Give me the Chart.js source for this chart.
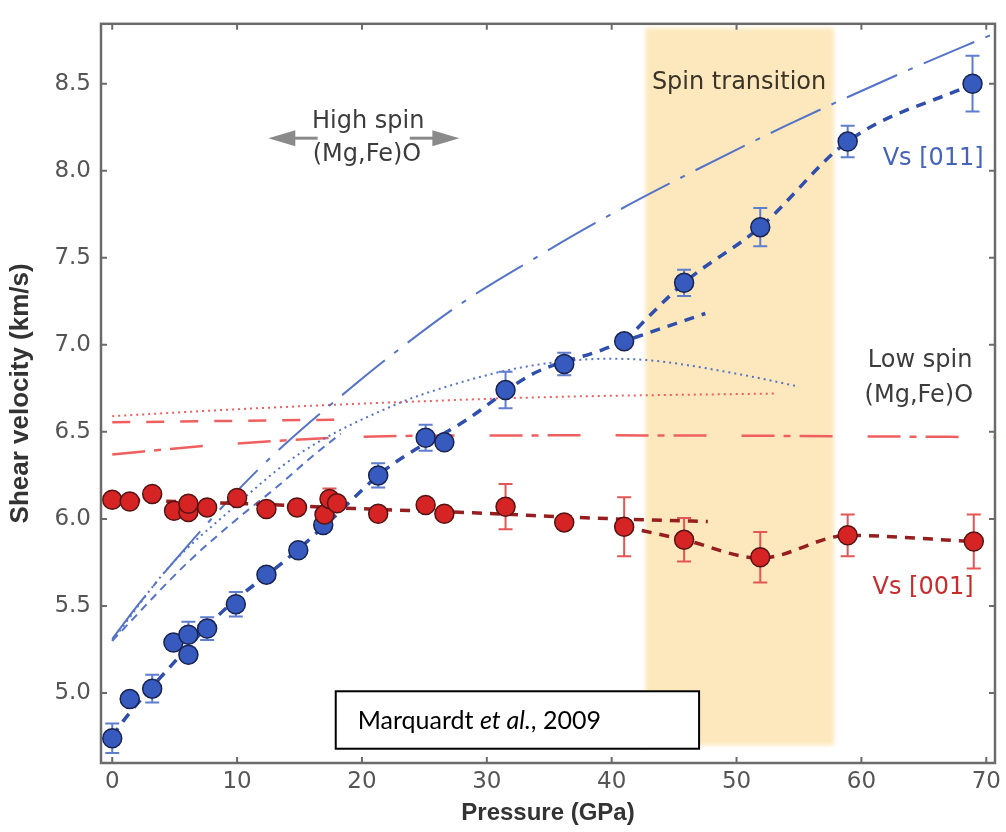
<!DOCTYPE html>
<html>
<head>
<meta charset="utf-8">
<script src="https://cdn.jsdelivr.net/npm/chart.js@4.4.1/dist/chart.umd.min.js"></script>
<style>
html, body { margin: 0; padding: 0; background: #fff; }
</style>
</head>
<body>
<canvas id="myChart" width="1006" height="832"></canvas>
<script>
// measured Vs [011] (blue)
const p011 = [0, 1.4, 3.2, 4.9, 6.1, 6.1, 7.6, 9.9, 12.35, 14.9, 16.9, 21.3, 25.1, 26.6, 31.5, 36.2, 41.0, 45.8, 51.9, 58.9, 68.9];
const vs011 = [4.74, 4.965, 5.025, 5.29, 5.335, 5.22, 5.37, 5.51, 5.68, 5.82, 5.965, 6.25, 6.466, 6.44, 6.74, 6.89, 7.02, 7.356, 7.676, 8.168, 8.5];
const err011 = [0.085, 0, 0.08, 0, 0.075, 0, 0.065, 0.07, 0, 0, 0, 0.07, 0.075, 0, 0.105, 0.065, 0, 0.075, 0.11, 0.09, 0.16];

// measured Vs [001] (red)
const p001 = [0, 1.4, 3.2, 4.95, 6.1, 6.1, 7.6, 10.0, 12.35, 14.8, 17.0, 17.4, 18.0, 21.3, 25.1, 26.6, 31.5, 36.2, 41.0, 45.8, 51.9, 58.9, 69.0];
const vs001 = [6.11, 6.10, 6.143, 6.047, 6.04, 6.087, 6.066, 6.12, 6.057, 6.066, 6.025, 6.115, 6.09, 6.03, 6.08, 6.03, 6.07, 5.98, 5.955, 5.88, 5.78, 5.906, 5.87];
const err001 = [0, 0, 0, 0, 0, 0, 0, 0, 0, 0, 0, 0.06, 0, 0, 0, 0, 0.13, 0, 0.17, 0.125, 0.145, 0.12, 0.155];

// fitted curves through the data
const fit011LowP = [0, 1, 4.5, 9, 14, 17, 22, 28.4, 33.6, 39.2, 41, 43, 47.5];
const fit011LowV = [4.75, 4.85, 5.14, 5.48, 5.77, 5.96, 6.29, 6.57, 6.83, 6.97, 7.02, 7.07, 7.18];
const fit011HighP = [41, 45.8, 51.9, 58.9, 69];
const fit011HighV = [7.02, 7.356, 7.676, 8.168, 8.5];
const fit001LowP = [0, 5, 11.5, 19.4, 28.9, 38.4, 47.7];
const fit001LowV = [6.11, 6.10, 6.085, 6.06, 6.035, 6.005, 5.985];
const fit001HighP = [41, 45.8, 51.9, 58.9, 69];
const fit001HighV = [5.955, 5.88, 5.775, 5.905, 5.87];

// thin reference curves
const refBlueAP = [0, 2, 5, 10.4, 13.7, 19.4, 22.8, 28, 33.9, 38.7, 45, 54, 63.5, 70.7];
const refBlueAV = [5.31, 5.5, 5.76, 6.19, 6.42, 6.77, 6.965, 7.24, 7.50, 7.70, 7.94, 8.26, 8.57, 8.79];
const refBlueBP = [0, 4.5, 9.3, 14.9, 22.8, 26.8, 31.4, 35.5, 39.7, 43.2, 50.3, 55];
const refBlueBV = [5.30, 5.72, 6.04, 6.37, 6.66, 6.76, 6.85, 6.90, 6.92, 6.91, 6.83, 6.76];
const refBlueCP = [0, 5.9, 10, 13.3, 15.7, 18.3];
const refBlueCV = [5.30, 5.74, 6.0, 6.19, 6.34, 6.49];
const refRedAP = [0, 10, 21, 35, 53];
const refRedAV = [6.59, 6.63, 6.665, 6.70, 6.72];
const refRedBP = [0, 18];
const refRedBV = [6.555, 6.57];
const refRedCP = [0, 7.5, 17.5, 25, 40, 70.7];
const refRedCV = [6.37, 6.42, 6.465, 6.478, 6.48, 6.47];

const spinBand = [42.7, 57.8];
const xTickVals = [0, 10, 20, 30, 40, 50, 60, 70];
const yTickVals = [5.0, 5.5, 6.0, 6.5, 7.0, 7.5, 8.0, 8.5];

function pts(xs, ys) {
    return xs.map(function(x, i) { return { x: x, y: ys[i] }; });
}

const BLUE = 'rgb(55,90,190)';
const RED = 'rgb(214,36,36)';

function curve(xs, ys, color, width, dash, order) {
    return {
        type: 'line',
        data: pts(xs, ys),
        borderColor: color,
        borderWidth: width,
        borderDash: dash,
        pointRadius: 0,
        fill: false,
        cubicInterpolationMode: 'monotone',
        order: order
    };
}

// shaded spin transition band and error bars, drawn under the marks
const bandPlugin = {
    id: 'band',
    beforeDatasetsDraw(chart) {
        const ctx = chart.ctx, x = chart.scales.x, y = chart.scales.y;
        ctx.save();
        ctx.filter = 'blur(2px)';
        ctx.fillStyle = 'rgb(252,232,188)';
        const x0 = x.getPixelForValue(spinBand[0]), x1 = x.getPixelForValue(spinBand[1]);
        const y0 = y.getPixelForValue(8.82), y1 = y.getPixelForValue(4.70);
        ctx.fillRect(x0, y0, x1 - x0, y1 - y0);
        ctx.restore();

        function bars(xs, ys, es, color) {
            ctx.save();
            ctx.strokeStyle = color;
            ctx.lineWidth = 2;
            for (let i = 0; i < xs.length; i++) {
                if (!es[i]) continue;
                const px = x.getPixelForValue(xs[i]);
                const top = y.getPixelForValue(ys[i] + es[i]);
                const bot = y.getPixelForValue(ys[i] - es[i]);
                ctx.beginPath();
                ctx.moveTo(px, top); ctx.lineTo(px, bot);
                ctx.moveTo(px - 7, top); ctx.lineTo(px + 7, top);
                ctx.moveTo(px - 7, bot); ctx.lineTo(px + 7, bot);
                ctx.stroke();
            }
            ctx.restore();
        }
        bars(p011, vs011, err011, 'rgb(95,125,205)');
        bars(p001, vs001, err001, 'rgb(228,85,85)');
    }
};

// box around the plot with inward ticks on all four sides
const framePlugin = {
    id: 'frame',
    afterDatasetsDraw(chart) {
        const ctx = chart.ctx, a = chart.chartArea, x = chart.scales.x, y = chart.scales.y;
        ctx.save();
        ctx.strokeStyle = '#6b6b6b';
        ctx.lineWidth = 2.5;
        ctx.strokeRect(a.left, a.top, a.right - a.left, a.bottom - a.top);
        ctx.lineWidth = 2;
        ctx.beginPath();
        xTickVals.forEach(function(v) {
            const px = x.getPixelForValue(v);
            ctx.moveTo(px, a.bottom); ctx.lineTo(px, a.bottom - 6);
            ctx.moveTo(px, a.top); ctx.lineTo(px, a.top + 6);
        });
        yTickVals.forEach(function(v) {
            const py = y.getPixelForValue(v);
            ctx.moveTo(a.left, py); ctx.lineTo(a.left + 6, py);
            ctx.moveTo(a.right, py); ctx.lineTo(a.right - 6, py);
        });
        ctx.stroke();
        ctx.restore();
    }
};

// text labels, arrows and the citation box
const notes = [
    { text: 'Spin transition', x: 50.2, y: 8.505, color: '#3b3428' },
    { text: 'High spin', x: 20.5, y: 8.28, color: '#3c3c3c' },
    { text: '(Mg,Fe)O', x: 20.4, y: 8.094, color: '#3c3c3c' },
    { text: 'Vs [011]', x: 65.75, y: 8.071, color: 'rgb(70,100,185)' },
    { text: 'Low spin', x: 64.7, y: 6.91, color: '#3c3c3c' },
    { text: '(Mg,Fe)O', x: 64.6, y: 6.71, color: '#3c3c3c' },
    { text: 'Vs [001]', x: 64.94, y: 5.607, color: 'rgb(200,45,45)' }
];

const notePlugin = {
    id: 'notes',
    afterDraw(chart) {
        const ctx = chart.ctx, x = chart.scales.x, y = chart.scales.y;
        ctx.save();
        ctx.font = '24px "DejaVu Sans"';
        ctx.textAlign = 'center';
        ctx.textBaseline = 'middle';
        notes.forEach(function(n) {
            ctx.fillStyle = n.color;
            ctx.fillText(n.text, x.getPixelForValue(n.x), y.getPixelForValue(n.y));
        });

        // double arrow under "High spin"
        const ay = y.getPixelForValue(8.187);
        function arrow(from, to) {
            const x0 = x.getPixelForValue(from), x1 = x.getPixelForValue(to);
            const dir = x1 > x0 ? 1 : -1;
            ctx.strokeStyle = '#8a8a8a';
            ctx.fillStyle = '#8a8a8a';
            ctx.lineWidth = 3;
            ctx.beginPath();
            ctx.moveTo(x0, ay); ctx.lineTo(x1 - dir * 20, ay);
            ctx.stroke();
            ctx.beginPath();
            ctx.moveTo(x1, ay);
            ctx.lineTo(x1 - dir * 27, ay - 8);
            ctx.lineTo(x1 - dir * 27, ay + 8);
            ctx.closePath();
            ctx.fill();
        }
        arrow(16.45, 12.5);
        arrow(23.83, 27.8);

        // citation box
        const bx0 = x.getPixelForValue(17.9), bx1 = x.getPixelForValue(47.0);
        const by0 = y.getPixelForValue(5.01), by1 = y.getPixelForValue(4.68);
        ctx.fillStyle = '#fff';
        ctx.fillRect(bx0, by0, bx1 - bx0, by1 - by0);
        ctx.strokeStyle = '#000';
        ctx.lineWidth = 2;
        ctx.strokeRect(bx0, by0, bx1 - bx0, by1 - by0);
        ctx.fillStyle = '#000';
        ctx.textAlign = 'left';
        let tx = bx0 + 22;
        const ty = (by0 + by1) / 2 + 1;
        const parts = [['Marquardt ', ''], ['et al.', 'italic '], [', 2009', '']];
        parts.forEach(function(p) {
            ctx.font = p[1] + '25px Lato';
            ctx.fillText(p[0], tx, ty);
            tx += ctx.measureText(p[0]).width;
        });
        ctx.restore();
    }
};

const ctx = document.getElementById('myChart').getContext('2d');
const myChart = new Chart(ctx, {
    type: 'scatter',
    data: {
        datasets: [
            {
                label: 'Vs [001]',
                data: pts(p001, vs001),
                backgroundColor: RED,
                borderColor: 'rgb(85,20,20)',
                borderWidth: 1.5,
                pointRadius: 9.5,
                order: 0
            },
            {
                label: 'Vs [011]',
                data: pts(p011, vs011),
                backgroundColor: BLUE,
                borderColor: 'rgb(25,35,80)',
                borderWidth: 1.5,
                pointRadius: 9.5,
                order: 1
            },
            curve(fit011LowP, fit011LowV, 'rgb(48,78,172)', 3.5, [10, 8], 2),
            curve(fit011HighP, fit011HighV, 'rgb(48,78,172)', 3.5, [10, 8], 2),
            curve(fit001LowP, fit001LowV, 'rgb(150,30,30)', 3.5, [10, 8], 2),
            curve(fit001HighP, fit001HighV, 'rgb(150,30,30)', 3.5, [10, 8], 2),
            curve(refBlueAP, refBlueAV, 'rgb(85,115,200)', 2, [55, 12, 5, 12], 3),
            curve(refBlueBP, refBlueBV, 'rgb(85,115,200)', 2, [2, 4], 3),
            curve(refBlueCP, refBlueCV, 'rgb(85,115,200)', 2, [8, 6], 3),
            curve(refRedAP, refRedAV, 'rgb(240,95,95)', 2, [2, 4], 3),
            curve(refRedBP, refRedBV, 'rgb(240,95,95)', 2.5, [18, 16], 3),
            curve(refRedCP, refRedCV, 'rgb(240,95,95)', 2.5, [33, 9, 7, 9, 33, 35], 3)
        ]
    },
    options: {
        responsive: false,
        animation: false,
        layout: { padding: { top: 10, right: 3, left: 0, bottom: 0 } },
        plugins: {
            legend: { display: false },
            tooltip: { enabled: false }
        },
        scales: {
            x: {
                type: 'linear',
                min: -0.9,
                max: 70.7,
                grid: { display: false, drawTicks: false },
                border: { display: false },
                afterBuildTicks: function(scale) {
                    scale.ticks = xTickVals.map(function(v) { return { value: v }; });
                },
                afterFit: function(scale) {
                    scale.height = 69;
                    scale.paddingLeft = 0;
                    scale.paddingRight = 0;
                },
                ticks: {
                    padding: 5,
                    color: '#555',
                    font: { family: 'DejaVu Sans', size: 23 }
                },
                title: {
                    display: true,
                    text: 'Pressure (GPa)',
                    color: '#333',
                    font: { family: 'Liberation Sans', size: 24, weight: 'bold' },
                    padding: { top: 0, bottom: 4 }
                }
            },
            y: {
                type: 'linear',
                min: 4.598,
                max: 8.844,
                grid: { display: false, drawTicks: false },
                border: { display: false },
                afterBuildTicks: function(scale) {
                    scale.ticks = yTickVals.map(function(v) { return { value: v }; });
                },
                afterFit: function(scale) {
                    scale.width = 101;
                },
                ticks: {
                    padding: 10,
                    color: '#555',
                    font: { family: 'DejaVu Sans', size: 23 },
                    callback: function(v) { return v.toFixed(1); }
                },
                title: {
                    display: true,
                    text: 'Shear velocity (km/s)',
                    color: '#333',
                    font: { family: 'Liberation Sans', size: 26, weight: 'bold' },
                    padding: { top: 5, bottom: 0 }
                }
            }
        }
    },
    plugins: [bandPlugin, framePlugin, notePlugin]
});
</script>
</body>
</html>
